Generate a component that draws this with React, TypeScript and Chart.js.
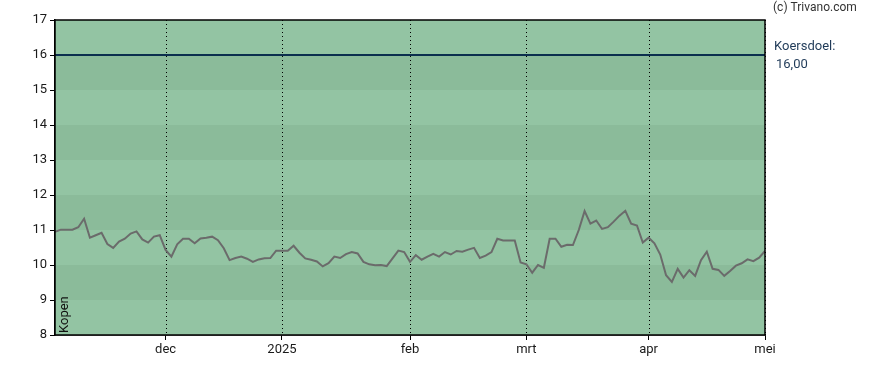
import React, { useEffect, useRef } from "react";
import { Chart, registerables } from "chart.js";

Chart.register(...registerables);

// Closing prices, one per trading day (index 0 = early November 2024, last = 1 May 2025)
const prices: number[] = [
  10.95, 11.01, 11.01, 11.01, 11.08, 11.32, 10.78, 10.85, 10.92, 10.6,
  10.49, 10.67, 10.75, 10.9, 10.96, 10.73, 10.64, 10.81, 10.85, 10.43,
  10.24, 10.59, 10.75, 10.75, 10.62, 10.76, 10.78, 10.81, 10.71, 10.48,
  10.14, 10.2, 10.24, 10.18, 10.09, 10.16, 10.19, 10.2, 10.41, 10.41,
  10.41, 10.55, 10.35, 10.19, 10.15, 10.1, 9.96, 10.05, 10.24, 10.2,
  10.31, 10.37, 10.33, 10.09, 10.02, 9.99, 10.0, 9.97, 10.19, 10.41,
  10.37, 10.09, 10.28, 10.15, 10.24, 10.32, 10.24, 10.37, 10.3, 10.4,
  10.38, 10.44, 10.49, 10.2, 10.27, 10.37, 10.75, 10.7, 10.7, 10.7,
  10.07, 10.02, 9.78, 10.0, 9.92, 10.75, 10.75, 10.52, 10.58, 10.57,
  11.0, 11.54, 11.18, 11.27, 11.03, 11.08, 11.24, 11.41, 11.55, 11.18,
  11.13, 10.64, 10.78, 10.62, 10.3, 9.71, 9.52, 9.89, 9.64, 9.85,
  9.69, 10.14, 10.38, 9.89, 9.86, 9.69, 9.83, 9.98, 10.05, 10.16,
  10.11, 10.21, 10.4,
];

// Month boundaries (trading-day index) and their labels
const monthTickIndex: number[] = [19, 39, 61, 81, 102, 122];
const monthTickLabels: string[] = ["dec", "2025", "feb", "mrt", "apr", "mei"];

const yTicks: number[] = [8, 9, 10, 11, 12, 13, 14, 15, 16, 17];
const targetPrice = 16;
const targetLabel = "16,00";

const LIGHT = "#93c4a3";
const DARK = "#8bbb9a";
const FONT = "Roboto, 'Noto Sans', sans-serif";

export default function App() {
  const ref = useRef<HTMLCanvasElement | null>(null);

  useEffect(() => {
    if (!ref.current) return;

    const bgPlugin = {
      id: "bands",
      beforeDatasetsDraw(chart: any) {
        const { ctx, chartArea } = chart;
        const y = chart.scales.y;
        const x = chart.scales.x;
        ctx.save();
        for (let v = yTicks[0]; v < yTicks[yTicks.length - 1]; v++) {
          const top = y.getPixelForValue(v + 1);
          const bot = y.getPixelForValue(v);
          ctx.fillStyle = (v - yTicks[0]) % 2 === 0 ? LIGHT : DARK;
          ctx.fillRect(chartArea.left, top, chartArea.right - chartArea.left, bot - top);
        }
        // dotted month lines
        ctx.strokeStyle = "#000";
        ctx.lineWidth = 1;
        ctx.setLineDash([1, 3]);
        monthTickIndex.forEach((i) => {
          const px = Math.round(x.getPixelForValue(i)) + 0.5;
          ctx.beginPath();
          ctx.moveTo(px, chartArea.top);
          ctx.lineTo(px, chartArea.bottom);
          ctx.stroke();
        });
        ctx.setLineDash([]);
        ctx.restore();
      },
      afterDraw(chart: any) {
        const { ctx, chartArea } = chart;
        ctx.save();
        ctx.strokeStyle = "#000";
        ctx.lineWidth = 1.5;
        ctx.strokeRect(chartArea.left, chartArea.top, chartArea.right - chartArea.left, chartArea.bottom - chartArea.top);
        // texts
        ctx.fillStyle = "#333";
        ctx.font = `12px ${FONT}`;
        ctx.textBaseline = "top";
        ctx.textAlign = "left";
        ctx.fillText("(c) Trivano.com", chartArea.right + 8, 2);
        ctx.fillStyle = "#1f3a58";
        ctx.font = `13px ${FONT}`;
        ctx.fillText("Koersdoel:", chartArea.right + 9, 40);
        ctx.fillText(targetLabel, chartArea.right + 11, 58);
        // Kopen vertical
        ctx.translate(chartArea.left + 13, chartArea.bottom - 2);
        ctx.rotate(-Math.PI / 2);
        ctx.fillStyle = "#111";
        ctx.font = `13px ${FONT}`;
        ctx.textBaseline = "alphabetic";
        ctx.fillText("Kopen", 0, 0);
        ctx.restore();
      },
    };

    const chart = new Chart(ref.current, {
      type: "line",
      data: {
        datasets: [
          {
            data: prices.map((p, i) => ({ x: i, y: p })),
            borderColor: "#6b6b6b",
            borderWidth: 2,
            pointRadius: 0,
            tension: 0,
          },
          {
            data: [
              { x: 0, y: targetPrice },
              { x: prices.length - 1, y: targetPrice },
            ],
            borderColor: "#0b2f4e",
            borderWidth: 2,
            pointRadius: 0,
          },
        ],
      },
      options: {
        animation: false,
        responsive: false,
        layout: { padding: { left: 0, right: 123, top: 20, bottom: 0 } },
        plugins: { legend: { display: false }, tooltip: { enabled: false } },
        scales: {
          x: {
            type: "linear",
            min: 0,
            max: prices.length - 1,
            afterBuildTicks(scale: any) {
              scale.ticks = monthTickIndex.map((v) => ({ value: v }));
            },
            afterFit(scale: any) {
              scale.height = 35;
            },
            ticks: {
              autoSkip: false,
              maxRotation: 0,
              padding: 2,
              color: "#1a1a1a",
              font: { family: FONT, size: 13 },
              callback: (v: any) => {
                const k = monthTickIndex.indexOf(Number(v));
                return k >= 0 ? monthTickLabels[k] : "";
              },
            },
            grid: { drawOnChartArea: false, drawTicks: true, tickLength: 5, tickColor: "#000" },
            border: { display: true, color: "#000", width: 1.5 },
          },
          y: {
            min: yTicks[0],
            max: yTicks[yTicks.length - 1],
            afterBuildTicks(scale: any) {
              scale.ticks = yTicks.map((v) => ({ value: v }));
            },
            afterFit(scale: any) {
              scale.width = 55;
            },
            ticks: {
              padding: 3,
              color: "#1a1a1a",
              font: { family: FONT, size: 13 },
            },
            grid: { drawOnChartArea: false, drawTicks: true, tickLength: 5, tickColor: "#000" },
            border: { display: true, color: "#000", width: 1.5 },
          },
        },
      },
      plugins: [bgPlugin],
    } as any);

    return () => chart.destroy();
  }, []);

  return (
    <div style={{ position: "absolute", left: 0, top: 0, width: 888, height: 370, background: "#fff" }}>
      <canvas ref={ref} width={888} height={370} style={{ width: 888, height: 370, display: "block" }} />
    </div>
  );
}
